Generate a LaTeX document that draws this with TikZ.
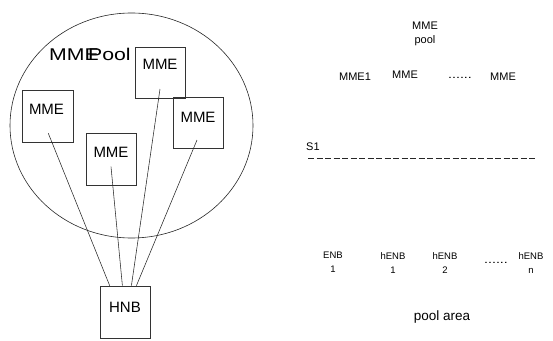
\documentclass[tikz,border=0pt]{standalone}
\usepackage{fontspec}
\setmainfont{Liberation Sans}
\usetikzlibrary{calc,shapes.geometric}
\begin{document}
\begin{tikzpicture}[x=1pt,y=-1pt,
  pool/.style={draw=black!85, line width=0.6pt, ellipse, minimum width=243pt, minimum height=225pt, inner sep=0pt},
  box/.style={draw=black!80, line width=0.6pt, minimum width=50pt, minimum height=52pt, inner sep=0pt},
  boxtext/.style={font=\fontsize{15}{17}\selectfont, inner sep=0pt, anchor=base},
  link/.style={draw=black!85, line width=0.55pt},
  lbl/.style={font=\fontsize{11}{13}\selectfont, inner sep=0pt, anchor=base},
  stacked/.style={font=\fontsize{9.5}{14}\selectfont, inner sep=0pt, align=center, anchor=north},
  sline/.style={draw=black!85, line width=1.3pt, dash pattern=on 6pt off 2.5pt},
]
\useasboundingbox (0,0) rectangle (553,340);

% left: pool
\node[pool] (P) at (131.5,125.5) {};
\node[font=\fontsize{17}{19}\selectfont, inner sep=0pt, anchor=base west] (ptitle) at (49,60) {\scalebox{1.25}[1]{MME\kern-0.5em Pool}};

\node[box, minimum width=50.6pt, minimum height=52.7pt] (m1) at (48,116.3) {};
\node[box] (m2) at (111,159) {};
\node[box, minimum height=51pt] (m3) at (160,72.5) {};
\node[box, minimum height=51pt] (m4) at (198,122.5) {};
\node[box] (h) at (125,312) {};

\node[boxtext] (t1) at ($(m1.north)+(-1.5,25)$) {MME};
\node[boxtext] (t2) at ($(m2.north)+(0,25)$) {MME};
\node[boxtext] (t3) at ($(m3.north)+(0,23)$) {MME};
\node[boxtext] (t4) at ($(m4.north)+(0,26)$) {MME};
\node[boxtext] (th) at ($(h.north)+(0,27)$) {HNB};

\coordinate (a1) at (48.3,133.3);
\coordinate (a2) at (111,166.7);
\coordinate (a3) at (160,89);
\coordinate (a4) at (197,140);
\coordinate (h1) at ($(h.north west)+(10,0)$);
\coordinate (h2) at ($(h.north west)+(22.7,0)$);
\coordinate (h3) at ($(h.north west)+(31.7,0)$);
\coordinate (h4) at ($(h.north west)+(36.7,0)$);
\draw[link] (a1) -- (h1);
\draw[link] (a2) -- (h2);
\draw[link] (a3) -- (h3);
\draw[link] (a4) -- (h4);

% right side
\node[font=\fontsize{11}{14}\selectfont, inner sep=0pt, align=center, anchor=north] (mp) at (425,22) {MME\\pool};
\node[lbl] (r1) at (355,80) {MME1};
\node[lbl] (r2) at (405,78) {MME};
\node[lbl] (r3) at (460,78) {\scalebox{1.3}[1]{......}};
\node[lbl] (r4) at (503,80) {MME};

\node[lbl, anchor=base west] (s1) at (306,150) {S1};
\coordinate (d1) at (308,158.3);
\coordinate (d2) at (537,158.3);
\draw[sline] (d1) -- (d2);

\node[stacked] (e1) at (333,252) {ENB\\1};
\node[stacked] (e2) at (393,252) {hENB\\1};
\node[stacked] (e3) at (445,252) {hENB\\2};
\node[lbl] (e4) at (496,263) {\scalebox{1.3}[1]{......}};
\node[stacked] (e5) at (531,252) {hENB\\n};

\node[font=\fontsize{13.5}{16}\selectfont, inner sep=0pt, anchor=base] (pa) at (442,320) {pool area};
\end{tikzpicture}
\end{document}
